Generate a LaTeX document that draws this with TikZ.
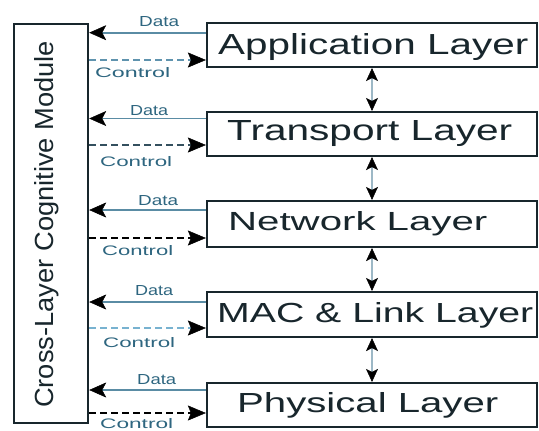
\documentclass[tikz,border=0pt]{standalone}
\usepackage{fontspec}
\setmainfont{Liberation Sans}
\usepackage{graphicx}
\usetikzlibrary{arrows.meta}

\definecolor{edge}{HTML}{18262C}
\definecolor{datablue}{HTML}{5A8CA4}
\definecolor{labelblue}{HTML}{2E6680}
\definecolor{ctrlblue}{HTML}{5F93AE}
\definecolor{ctrllight}{HTML}{78B2D0}
\definecolor{ctrldark}{HTML}{34505E}
\definecolor{linkgrey}{HTML}{9DB8C6}

% stretch a label to a given width and cap height (in bp)
\newcommand{\fitlabel}[3]{\resizebox{#1bp}{#2bp}{#3}}

\begin{document}
\begin{tikzpicture}[x=1bp,y=-1bp,
  layerbox/.style={draw=edge,line width=2.2bp,minimum width=330bp,inner sep=0pt},
  modbox/.style={draw=edge,line width=2.4bp,minimum width=74bp,minimum height=399bp,inner sep=0pt},
  txt/.style={inner sep=0pt,anchor=base west,text=edge},
  small/.style={inner sep=0pt,anchor=base west,text=labelblue},
  dataarrow/.style={draw=datablue,line width=1.8bp,-{Stealth[length=17bp,width=15bp,inset=4bp,color=black,line width=0.5bp]}},
  ctrlarrow/.style={line width=2.4bp,dash pattern=on 7bp off 4bp,-{Stealth[length=18bp,width=15bp,inset=3bp,color=black,line width=0.5bp]}},
  updown/.style={draw=linkgrey,line width=1.8bp,{Stealth[length=13bp,width=12bp,inset=3bp,color=black,line width=0.5bp]}-{Stealth[length=13bp,width=12bp,inset=3bp,color=black,line width=0.5bp]}}
]
\useasboundingbox[fill=white] (0,0) rectangle (539,430);

% cognitive module on the left
\node[modbox] (cog) at (51,223.5) {};
\node[inner sep=0pt,anchor=base west,rotate=90,text=edge] (cogt) at (53,408)
  {\fitlabel{367}{19}{Cross-Layer Cognitive Module}};

% protocol stack
\node[layerbox,minimum height=44bp] (app) at (372,45) {};
\node[layerbox,minimum height=44bp] (trn) at (372,134) {};
\node[layerbox,minimum height=46bp] (net) at (372,224) {};
\node[layerbox,minimum height=45bp] (mac) at (372,314.5) {};
\node[layerbox,minimum height=44bp] (phy) at (372,405) {};

\node[txt] (appt) at (218,54)  {\fitlabel{310}{21}{Application Layer}};
\node[txt] (trnt) at (227,140) {\fitlabel{285}{20}{Transport Layer}};
\node[txt] (nett) at (228,230) {\fitlabel{259}{19}{Network Layer}};
\node[txt] (mact) at (217,322) {\fitlabel{316}{20}{MAC \& Link Layer}};
\node[txt] (phyt) at (237,412) {\fitlabel{261}{20}{Physical Layer}};

% links between adjacent layers
\draw[updown] (app.south) -- (trn.north);
\draw[updown] (trn.south) -- (net.north);
\draw[updown] (net.south) -- (mac.north);
\draw[updown] (mac.south) -- (phy.north);

% heights of the data and control lines
\coordinate (d1) at (0,32.7);  \coordinate (c1) at (0,60);
\coordinate (d2) at (0,118.5); \coordinate (c2) at (0,145);
\coordinate (d3) at (0,210);   \coordinate (c3) at (0,238);
\coordinate (d4) at (0,302);   \coordinate (c4) at (0,328);
\coordinate (d5) at (0,390);   \coordinate (c5) at (0,413);

% data flows into the module
\draw[dataarrow] (app.west |- d1) -- (cog.east |- d1);
\draw[dataarrow] (trn.west |- d2) -- (cog.east |- d2);
\draw[dataarrow] (net.west |- d3) -- (cog.east |- d3);
\draw[dataarrow] (mac.west |- d4) -- (cog.east |- d4);
\draw[dataarrow] (phy.west |- d5) -- (cog.east |- d5);

% control flows out of the module
\draw[ctrlarrow,draw=ctrlblue]  (cog.east |- c1) -- (app.west |- c1);
\draw[ctrlarrow,draw=ctrldark]  (cog.east |- c2) -- (trn.west |- c2);
\draw[ctrlarrow,draw=black]     (cog.east |- c3) -- (net.west |- c3);
\draw[ctrlarrow,draw=ctrllight] (cog.east |- c4) -- (mac.west |- c4);
\draw[ctrlarrow,draw=black]     (cog.east |- c5) -- (phy.west |- c5);

% labels
\node[small] (dl1) at (139,26)  {\fitlabel{40}{10}{Data}};
\node[small] (dl2) at (130,115) {\fitlabel{38}{10}{Data}};
\node[small] (dl3) at (138,205) {\fitlabel{40}{10}{Data}};
\node[small] (dl4) at (135,295) {\fitlabel{38}{10}{Data}};
\node[small] (dl5) at (137,384) {\fitlabel{39}{10}{Data}};

\node[small] (cl1) at (95,77)   {\fitlabel{75}{10}{Control}};
\node[small] (cl2) at (100,166) {\fitlabel{72}{10}{Control}};
\node[small] (cl3) at (102,255) {\fitlabel{71}{10}{Control}};
\node[small] (cl4) at (103,347) {\fitlabel{72}{10}{Control}};
\node[small] (cl5) at (100,428) {\fitlabel{73}{10}{Control}};
\end{tikzpicture}
\end{document}
